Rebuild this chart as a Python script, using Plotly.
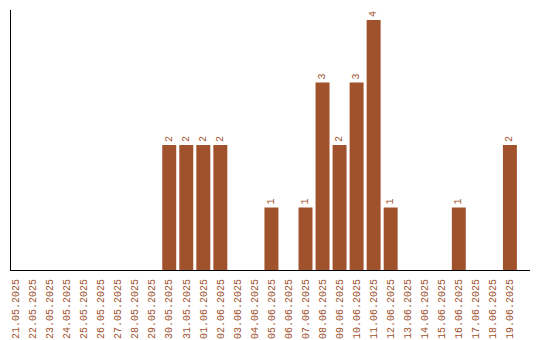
import plotly.graph_objects as go

dates = ["21.05.2025","22.05.2025","23.05.2025","24.05.2025","25.05.2025","26.05.2025",
         "27.05.2025","28.05.2025","29.05.2025","30.05.2025","31.05.2025","01.06.2025",
         "02.06.2025","03.06.2025","04.06.2025","05.06.2025","06.06.2025","07.06.2025",
         "08.06.2025","09.06.2025","10.06.2025","11.06.2025","12.06.2025","13.06.2025",
         "14.06.2025","15.06.2025","16.06.2025","17.06.2025","18.06.2025","19.06.2025"]
counts = [0,0,0,0,0,0,0,0,0,2,2,2,2,0,0,1,0,1,3,2,3,4,1,0,0,0,1,0,0,2]

color = "#a0522d"
labels = [str(v) if v > 0 else "" for v in counts]
font_family = "Liberation Mono"

fig = go.Figure(go.Bar(
    x=list(range(len(dates))), y=counts,
    marker=dict(color=color, line=dict(width=0)),
    width=0.82,
    text=labels, textposition="outside", textangle=-90,
    textfont=dict(family=font_family, size=10, color=color),
    cliponaxis=False,
))

fig.update_layout(
    width=540, height=340,
    margin=dict(l=11, r=10, t=10, b=70, autoexpand=False),
    plot_bgcolor="white", paper_bgcolor="white",
    showlegend=False,
    xaxis=dict(
        range=[-0.29, 30.18], automargin=False,
        tickmode="array", tickvals=list(range(len(dates))), ticktext=dates,
        tickangle=-90, tickfont=dict(family=font_family, size=10, color=color),
        ticklabelstandoff=4,
        showgrid=False, zeroline=False, showline=True, linecolor="black", linewidth=1,
        ticks="",
    ),
    yaxis=dict(
        range=[0, 4.16], showgrid=False, zeroline=False, showticklabels=False,
        automargin=False,
        showline=True, linecolor="black", linewidth=1, ticks="",
    ),
)

fig.write_html("out.html")
